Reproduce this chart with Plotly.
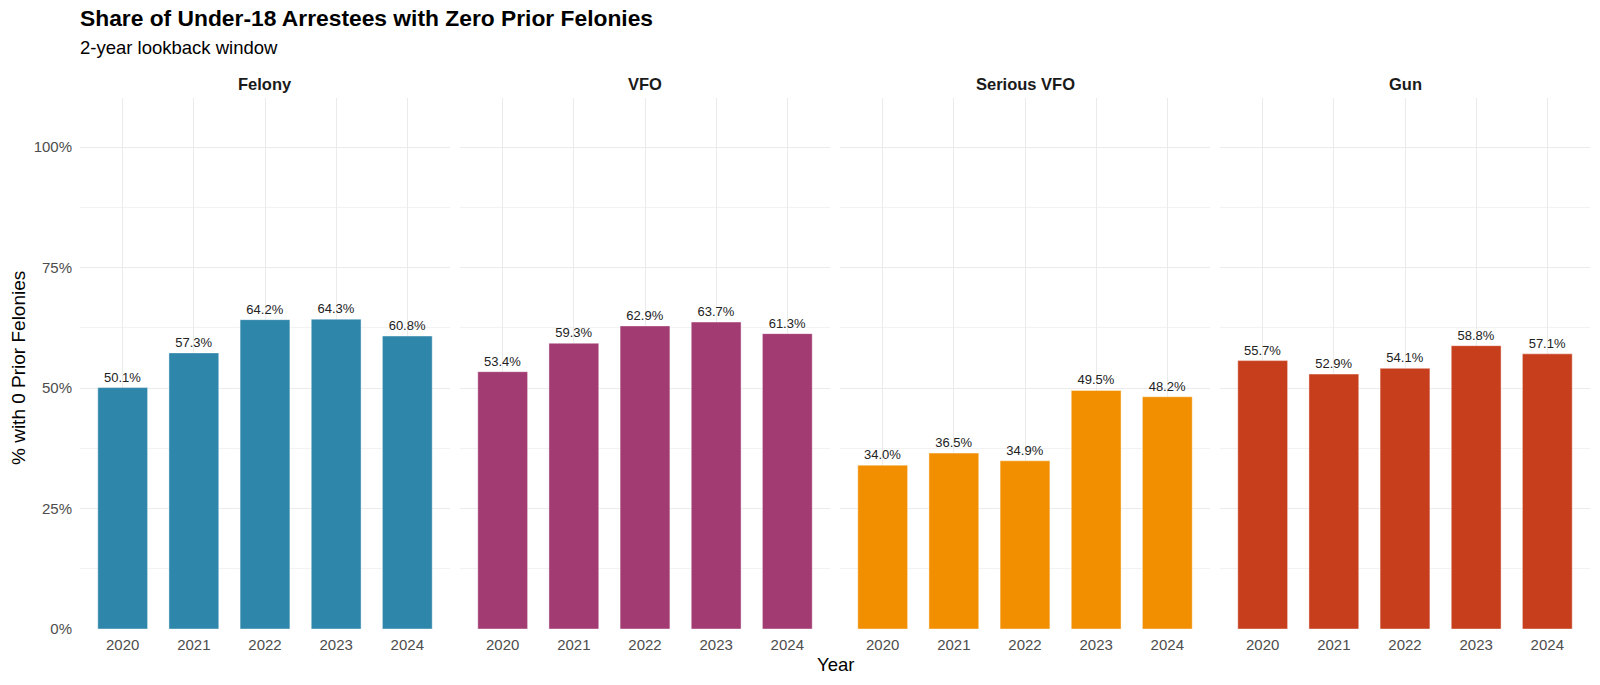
import plotly.graph_objects as go

years = ["2020", "2021", "2022", "2023", "2024"]
panels = ["Felony", "VFO", "Serious VFO", "Gun"]
felony = [50.1, 57.3, 64.2, 64.3, 60.8]
vfo = [53.4, 59.3, 62.9, 63.7, 61.3]
serious_vfo = [34.0, 36.5, 34.9, 49.5, 48.2]
gun = [55.7, 52.9, 54.1, 58.8, 57.1]
colors = ["#2E86AB", "#A23B72", "#F18F01", "#C73E1D"]
y_ticks = [0, 25, 50, 75, 100]
y_tick_labels = ["0%", "25%", "50%", "75%", "100%"]

series = [felony, vfo, serious_vfo, gun]

W, H = 1600, 685
L, R, T, B = 80, 10, 98, 56
plot_w = W - L - R
plot_h = H - T - B
panel_px = [(80, 450), (460, 830), (840, 1210), (1220, 1590)]


def py(ypx):
    """paper y from pixel y (top-origin)"""
    return 1 + (T - ypx) / plot_h


def px(xpx):
    return (xpx - L) / plot_w


FONT = "Liberation Sans, Arial, Helvetica, sans-serif"
fig = go.Figure()
layout = dict()
annotations = []
for i, (name, vals, col) in enumerate(zip(panels, series, colors)):
    ax = "" if i == 0 else str(i + 1)
    fig.add_trace(go.Bar(
        x=years, y=vals, xaxis="x" + ax, yaxis="y" + ax,
        marker=dict(color=col, line=dict(color="rgba(255,255,255,0.7)", width=0.6)),
        width=0.7,
        text=[f"{v:.1f}%" for v in vals], textposition="outside",
        textfont=dict(size=13, color="#222222", family=FONT),
        cliponaxis=False, showlegend=False, hoverinfo="x+y",
    ))
    x0, x1 = panel_px[i]
    d0, d1 = px(x0), px(x1)
    layout["xaxis" + ax] = dict(
        domain=[d0, d1], anchor="y" + ax, type="category", automargin=False,
        range=[-0.6, 4.6], showgrid=True, gridcolor="#EBEBEB", gridwidth=1.2,
        zeroline=False, showline=False, ticks="", ticklabelstandoff=5,
        tickfont=dict(size=15, color="#4D4D4D", family=FONT),
    )
    layout["yaxis" + ax] = dict(
        domain=[0, 1], anchor="x" + ax, range=[0, 110.2], automargin=False,
        tickvals=y_ticks, ticktext=y_tick_labels, ticklabelstandoff=7,
        showticklabels=(i == 0), showgrid=True, gridcolor="#EBEBEB", gridwidth=1.2,
        minor=dict(tick0=12.5, dtick=25, showgrid=True, gridcolor="#F2F2F2", gridwidth=0.7),
        zeroline=False, showline=False, ticks="",
        tickfont=dict(size=15, color="#4D4D4D", family=FONT),
    )
    annotations.append(dict(
        text=f"<b>{name}</b>", x=(d0 + d1) / 2, y=py(84), xref="paper", yref="paper",
        showarrow=False, font=dict(size=16.5, color="#1A1A1A", family=FONT),
        xanchor="center", yanchor="middle",
    ))

annotations += [
    dict(text="Year", x=0.5, y=py(664), xref="paper", yref="paper",
         showarrow=False, font=dict(size=18.5, color="#000000", family=FONT),
         xanchor="center", yanchor="middle"),
    dict(text="% with 0 Prior Felonies", x=px(18), y=py(368), xref="paper", yref="paper",
         showarrow=False, textangle=-90, font=dict(size=19, color="#000000", family=FONT),
         xanchor="center", yanchor="middle"),
    dict(text="<b>Share of Under-18 Arrestees with Zero Prior Felonies</b>",
         x=px(78), y=py(18), xref="paper", yref="paper", showarrow=False,
         font=dict(size=22.8, color="#000000", family=FONT), xanchor="left", yanchor="middle"),
    dict(text="2-year lookback window",
         x=px(78), y=py(47), xref="paper", yref="paper", showarrow=False,
         font=dict(size=18.5, color="#000000", family=FONT), xanchor="left", yanchor="middle"),
]

fig.update_layout(
    **layout,
    annotations=annotations,
    width=W, height=H,
    margin=dict(l=L, r=R, t=T, b=B, autoexpand=False),
    paper_bgcolor="white", plot_bgcolor="white",
    font=dict(family=FONT),
)

fig.write_html("out.html", config={"displayModeBar": False},
               post_script="document.body.style.margin='0';document.body.style.overflow='hidden';")
